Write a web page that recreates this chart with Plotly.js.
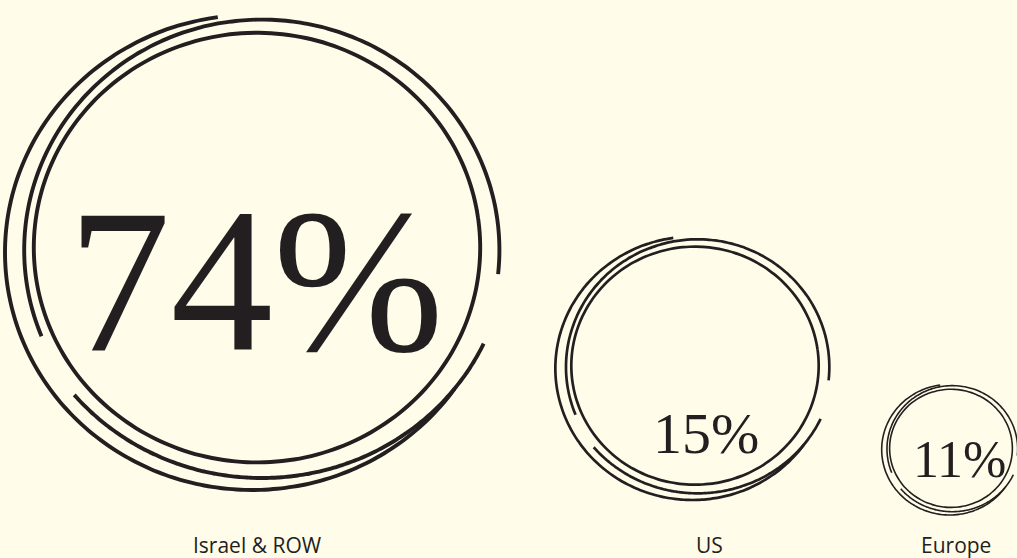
<!DOCTYPE html>
<html><head><meta charset="utf-8">
<script src="https://cdn.plot.ly/plotly-3.0.1.min.js"></script>
<style>html,body{margin:0;padding:0;background:#fffde9;}</style>
</head><body><div id="chart" style="width:1017px;height:558px;"></div>
<script>
// ---- data ----
const regions = ['Israel & ROW', 'US', 'Europe'];
const shares = [74, 15, 11];

// ---- styling (positions / sizes of each sketched ring, in pixels) ----
const ringCx = [257, 695, 951];
const ringCy = [250, 367, 449];
const ringR = [240, 133, 66];
const strokeW = [3.9, 2.7, 1.6];
const pctSize = [205, 58, 52];
const pctX = [256, 706, 959];
const pctY = [280, 433, 459];
const labelX = [257, 709, 956];
const labelY = 545;
const ink = '#231f20';

// hand-drawn stroke pattern, relative to ring centre and radius
// ox, oy offset; rx, ry radii; a0 -> a1 angle range in degrees (screen y down)
const sketch = [
  {ox: 0.0, oy: -0.01, rx: 0.93, ry: 0.895, a0: -10, a1: 352},
  {ox: -0.02, oy: 0.01, rx: 1.03, ry: 0.99, a0: -98, a1: -325},
  {ox: 0.02, oy: 0.0, rx: 0.99, ry: 0.96, a0: 158, a1: 366},
  {ox: 0.02, oy: -0.02, rx: 1.02, ry: 0.97, a0: 140, a1: 25}
];

function arc(cx, cy, R, s) {
  const xs = [], ys = [];
  const n = 120;
  for (let k = 0; k <= n; k++) {
    const t = (s.a0 + (s.a1 - s.a0) * k / n) * Math.PI / 180;
    xs.push(cx + R * (s.ox + s.rx * Math.cos(t)));
    ys.push(cy + R * (s.oy + s.ry * Math.sin(t)));
  }
  return {xs, ys};
}

const traces = [];
regions.forEach((name, i) => {
  sketch.forEach(s => {
    const a = arc(ringCx[i], ringCy[i], ringR[i], s);
    traces.push({
      type: 'scatter', mode: 'lines', x: a.xs, y: a.ys,
      line: {color: ink, width: strokeW[i], shape: 'spline'},
      hoverinfo: 'skip', showlegend: false
    });
  });
});

const annotations = [];
regions.forEach((name, i) => {
  annotations.push({
    x: pctX[i], y: pctY[i], xref: 'x', yref: 'y', showarrow: false,
    text: shares[i] + '%', xanchor: 'center', yanchor: 'middle',
    font: {family: 'Liberation Serif, serif', size: pctSize[i], color: ink}
  });
  annotations.push({
    x: labelX[i], y: labelY, xref: 'x', yref: 'y', showarrow: false,
    text: name, xanchor: 'center', yanchor: 'middle',
    font: {family: 'Open Sans, sans-serif', size: 21, color: ink}
  });
});

const layout = {
  width: 1017, height: 558,
  margin: {l: 0, r: 0, t: 0, b: 0},
  paper_bgcolor: '#fffde9', plot_bgcolor: '#fffde9',
  xaxis: {range: [0, 1017], visible: false, fixedrange: true},
  yaxis: {range: [558, 0], visible: false, fixedrange: true},
  annotations: annotations,
  showlegend: false
};

Plotly.newPlot('chart', traces, layout, {displayModeBar: false, staticPlot: true});
</script></body></html>
